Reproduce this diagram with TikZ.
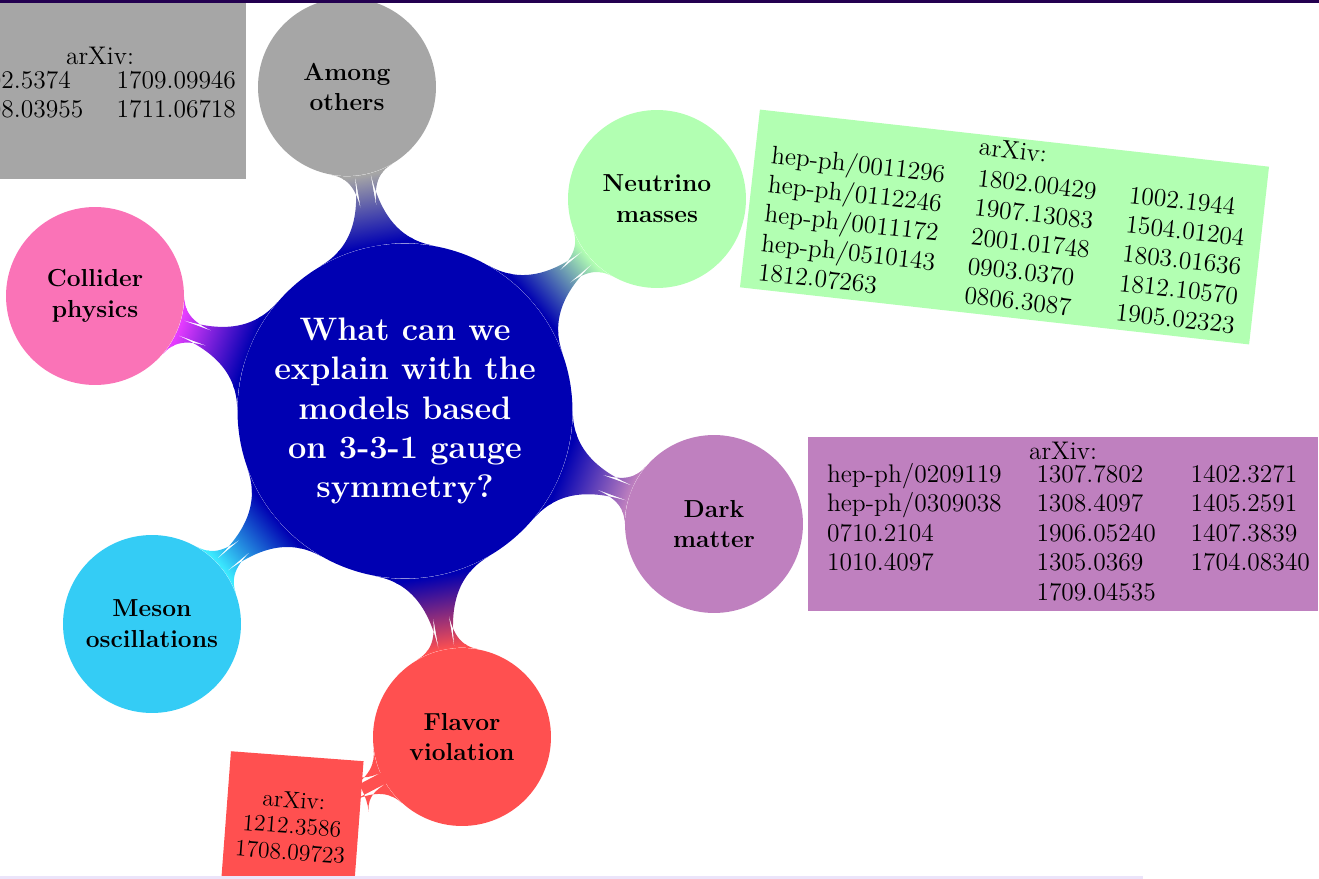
\documentclass[tikz,border=0pt]{standalone}
\usetikzlibrary{mindmap,backgrounds}
\definecolor{mainblue}{RGB}{0,0,178}
\definecolor{grayc}{RGB}{166,166,166}
\definecolor{greenc}{RGB}{178,255,178}
\definecolor{pinkc}{RGB}{250,115,183}
\definecolor{magc}{RGB}{230,60,255}
\definecolor{cyanc}{RGB}{52,204,245}
\definecolor{brightcyan}{RGB}{60,235,255}
\definecolor{redc}{RGB}{255,80,80}
\definecolor{violetc}{RGB}{191,128,191}
\definecolor{topbar}{RGB}{35,0,80}
\definecolor{botbar}{RGB}{235,228,250}
\begin{document}
\begin{tikzpicture}[x=0.02cm,y=-0.02cm,
  topic/.style={circle, inner sep=0pt, minimum size=3.56cm, text width=3.3cm, align=center,
    font=\fontsize{14}{17.5}\selectfont\bfseries},
  roottopic/.style={circle, inner sep=0pt, minimum size=6.7cm, align=center, text=white,
    fill=mainblue, font=\fontsize{18.5}{22.3}\selectfont\bfseries},
  refbox/.style={rectangle, inner sep=0pt, align=center,
    font=\fontsize{14.5}{16.8}\selectfont},
  bar/.style={line width=0.6cm}
]
\useasboundingbox (0,0) rectangle (1319,879);
\clip (0,0) rectangle (1319,879);

% nodes
\node[roottopic] (main) at (405,411) {What can we\\ explain with the\\ models based\\ on 3-3-1 gauge\\ symmetry?};
\node[topic, fill=grayc] (among) at (347,87) {Among\\ others};
\node[topic, fill=greenc] (neutrino) at (657,199) {Neutrino\\ masses};
\node[topic, fill=pinkc] (collider) at (95,296) {Collider\\ physics};
\node[topic, fill=cyanc] (meson) at (152,624) {Meson\\ oscillations};
\node[topic, fill=redc] (flavor) at (462,737) {Flavor\\ violation};
\node[topic, fill=violetc] (dark) at (714,524) {Dark\\ matter};

% reference boxes
\node[refbox, fill=grayc, minimum width=5.84cm, minimum height=3.76cm] (amongbox) at (100,85)
  {\begin{tabular}{@{}l@{\hspace{19pt}}l@{}}
  \multicolumn{2}{c}{arXiv:}\\[-3pt]
  1402.5374 & 1709.09946\\
  1608.03955 & 1711.06718
  \end{tabular}};
\node[refbox, fill=greenc, minimum width=10.2cm, minimum height=3.48cm, rotate=-6.4] (neutrinobox) at (1004.5,227)
  {\setlength{\tabcolsep}{9.4pt}\begin{tabular}{lll}
  \multicolumn{3}{c}{arXiv:}\\[1pt]
  hep-ph/0011296 & 1802.00429 & 1002.1944\\
  hep-ph/0112246 & 1907.13083 & 1504.01204\\
  hep-ph/0011172 & 2001.01748 & 1803.01636\\
  hep-ph/0510143 & 0903.0370 & 1812.10570\\
  1812.07263 & 0806.3087 & 1905.02323
  \end{tabular}};
\node[refbox, fill=violetc, minimum width=10.2cm, minimum height=3.48cm] (darkbox) at (1063,524)
  {\begin{tabular}{@{\hspace{8pt}}l@{\hspace{19.8pt}}l@{\hspace{19.8pt}}l@{\hspace{1.8pt}}}
  \multicolumn{3}{c}{arXiv:}\\[-4pt]
  hep-ph/0209119 & 1307.7802 & 1402.3271\\
  hep-ph/0309038 & 1308.4097 & 1405.2591\\
  0710.2104 & 1906.05240 & 1407.3839\\
  1010.4097 & 1305.0369 & 1704.08340\\
   & 1709.04535 &
  \end{tabular}};
\node[refbox, fill=redc, minimum width=2.66cm, minimum height=2.8cm, rotate=-4.3,
  font=\fontsize{13.4}{14.8}\selectfont] (flavorbox) at (292,826)
  {arXiv:\\ 1212.3586\\ 1708.09723};

% connection bars
\begin{scope}[on background layer]
\path[bar] (main) to[circle connection bar switch color=from (mainblue) to (grayc)] (among);
\path[bar] (main) to[circle connection bar switch color=from (mainblue) to (greenc)] (neutrino);
\path[bar] (main) to[circle connection bar switch color=from (mainblue) to (magc)] (collider);
\path[bar] (main) to[circle connection bar switch color=from (mainblue) to (brightcyan)] (meson);
\path[bar] (main) to[circle connection bar switch color=from (mainblue) to (redc)] (flavor);
\path[bar] (main) to[circle connection bar switch color=from (mainblue) to (violetc)] (dark);
\end{scope}
\path[line width=0.5cm] (flavor) to[circle connection bar switch color=from (redc) to (redc)] (flavorbox);

% frame bars
\fill[topbar] (0,0) rectangle (1319,3);
\fill[botbar] (0,876) rectangle (1143,879);
\end{tikzpicture}
\end{document}
